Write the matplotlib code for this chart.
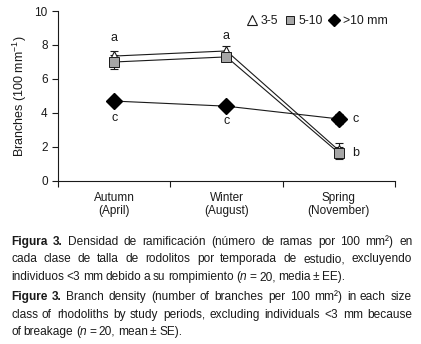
import numpy as np
import matplotlib.pyplot as plt
from matplotlib.lines import Line2D

plt.rcParams['font.family'] = ['Liberation Sans', 'DejaVu Sans']
plt.rcParams['mathtext.fontset'] = 'custom'
plt.rcParams['mathtext.rm'] = 'Liberation Sans'
plt.rcParams['mathtext.it'] = 'Liberation Sans:italic'

# data
seasons = ['Autumn\n(April)', 'Winter\n(August)', 'Spring\n(November)']
small_mean = [7.35, 7.65, 1.8]      # 3-5 mm
small_err = [0.3, 0.3, 0.45]
mid_mean = [7.0, 7.3, 1.65]         # 5-10 mm
mid_err = [0.4, 0.25, 0.35]
large_mean = [4.7, 4.4, 3.65]       # >10 mm
large_err = [0.2, 0.25, 0.3]
letters = ['a', 'a', 'c', 'c', 'c', 'b']
letter_pos = [(0, 8.4), (1, 8.5), (0, 3.7), (1, 3.5), (2.15, 3.65), (2.15, 1.65)]

# caption words; "*" marks bold words, "_" an italic word
caption_es = ["*Figura *3. Densidad de ramificación (número de ramas por 100 mm² ) en",
              "cada clase de talla de rodolitos por temporada de estudio, excluyendo",
              "individuos <3 mm debido a su rompimiento ( _n = 20, media ± EE)."]
caption_en = ["*Figure *3. Branch density (number of branches per 100 mm² ) in each size",
              "class of rhodoliths by study periods, excluding individuals <3 mm because",
              "of breakage ( _n = 20, mean ± SE)."]

fig = plt.figure(figsize=(4.21, 3.44), dpi=100)
ax = fig.add_axes([0.138, 0.474, 0.8, 0.494])

x = np.arange(len(seasons)) + 0.5
ink = '#1a1a1a'

ax.plot(x, small_mean, color=ink, lw=0.8, zorder=2)
ax.plot(x, mid_mean, color=ink, lw=0.8, zorder=2)
ax.plot(x, large_mean, color=ink, lw=0.8, zorder=2)

for mean, err in ((small_mean, small_err), (mid_mean, mid_err), (large_mean, large_err)):
    ax.errorbar(x, mean, yerr=err, fmt='none', ecolor=ink, elinewidth=0.8,
                capsize=3, capthick=0.8, zorder=3)

ax.plot(x, small_mean, ls='none', marker='^', ms=7, mfc='white', mec=ink, mew=0.8, zorder=4)
ax.plot(x, mid_mean, ls='none', marker='s', ms=7, mfc='#a6a6a6', mec=ink, mew=0.7, zorder=5)
ax.plot(x, large_mean, ls='none', marker='D', ms=8, mfc='black', mec='black', zorder=5)

for lab, (i, yv) in zip(letters, letter_pos):
    ax.text(x[0] + i, yv, lab, ha='center', va='center', fontsize=9, color=ink)

ax.set_xlim(0, 3)
ax.set_ylim(0, 10)
ax.set_yticks([0, 2, 4, 6, 8, 10])
ax.set_xticks([0, 1, 2, 3])
ax.set_xticklabels([])
ax.set_xticks(x, minor=True)
ax.set_xticklabels(seasons, minor=True, fontsize=8.5, color=ink, linespacing=1.15)
ax.tick_params(axis='x', which='minor', length=0, pad=8)
ax.tick_params(axis='both', which='major', length=4, width=0.8, color=ink,
               labelsize=8.5, labelcolor=ink)
for s in ('top', 'right'):
    ax.spines[s].set_visible(False)
for s in ('left', 'bottom'):
    ax.spines[s].set_color(ink)
    ax.spines[s].set_linewidth(0.8)
ax.set_ylabel('Branches (100 mm$^{-1}$)', fontsize=9, color=ink, labelpad=4)

handles = [Line2D([], [], ls='none', marker='^', ms=7, mfc='white', mec=ink, mew=0.8),
           Line2D([], [], ls='none', marker='s', ms=6, mfc='#a6a6a6', mec=ink, mew=0.7),
           Line2D([], [], ls='none', marker='D', ms=6, mfc='black', mec='black')]
ax.legend(handles, ['3-5', '5-10', '>10 mm'], ncol=3, frameon=False, loc='upper right',
          bbox_to_anchor=(1.0, 1.02), fontsize=8.8, handlelength=0.8, handletextpad=0.3,
          columnspacing=0.55, borderaxespad=0.2, labelcolor=ink)

# justified caption, placed word by word
renderer = fig.canvas.get_renderer()
W, H = fig.get_size_inches() * fig.dpi
left_px, right_px = 11, 412


def make_word(w):
    # returns list of (text, weight, style)
    if w.startswith('*'):
        return [(w.strip('*'), 'bold', 'normal')]
    if w.startswith('_'):
        return [(w[1:], 'normal', 'italic')]
    return [(w, 'normal', 'normal')]


def draw_paragraph(lines, top_px, step_px):
    for li, line in enumerate(lines):
        # glue "mm² )" and "( _n" back into single words
        raw = line.split(' ')
        words = []
        for w in raw:
            if w == ')' and words:
                words[-1].append((w, 'normal', 'normal'))
            elif w.startswith('_') and words and words[-1][-1][0].endswith('('):
                words[-1].extend(make_word(w))
            else:
                words.append(make_word(w))
        arts, widths = [], []
        for word in words:
            pieces = []
            for txt, wt, st in word:
                t = fig.text(0, 0, txt, fontsize=8.6, color=ink, va='baseline',
                             fontweight=wt, fontstyle=st)
                pieces.append((t, t.get_window_extent(renderer).width))
            arts.append(pieces)
            widths.append(sum(p[1] for p in pieces))
        if li == len(lines) - 1:
            gap = 2.6
        else:
            gap = (right_px - left_px - sum(widths)) / (len(words) - 1)
        xp = left_px
        yp = round(H - (top_px + li * step_px))
        for pieces, wd in zip(arts, widths):
            xx = xp
            for t, pw in pieces:
                t.set_position((round(xx) / W, yp / H))
                xx += pw
            xp += wd + gap


draw_paragraph(caption_es, 245, 17.4)
draw_paragraph(caption_en, 300.5, 17.4)

fig.savefig('out.png', dpi=100)
